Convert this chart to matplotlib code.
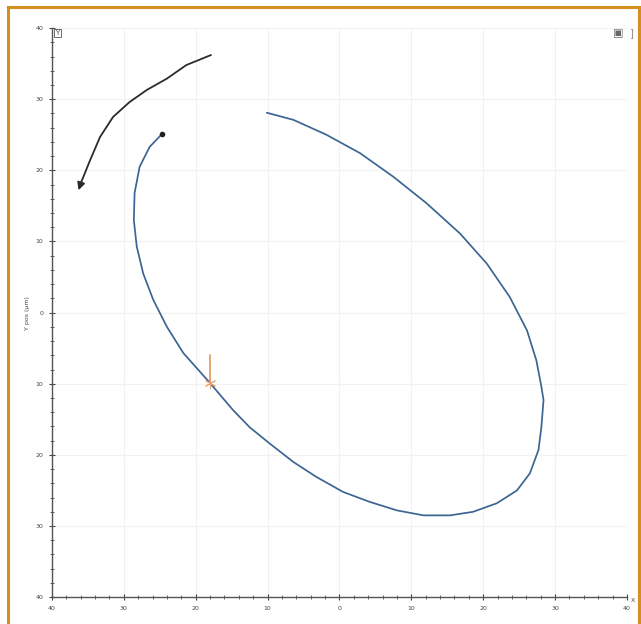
#!/usr/bin/env python3

import matplotlib
matplotlib.use("Agg")
from matplotlib import pyplot as plt
from matplotlib.ticker import MultipleLocator

# blue trajectory (x, y in um)
path_x = [-10.1, -6.4, -1.8, 2.9, 7.5, 12.1, 16.8, 20.5, 23.7, 26.1, 27.4,
          28.1, 28.4, 28.1, 27.7, 26.5, 24.7, 21.9, 18.6, 15.4, 11.7, 8.0,
          4.2, 0.5, -3.2, -6.4, -9.7, -12.5, -14.8, -18.0, -21.7, -24.0,
          -25.9, -27.3, -28.2, -28.6, -28.5, -27.8, -26.4, -24.7]
path_y = [28.1, 27.1, 25.0, 22.4, 19.1, 15.4, 11.1, 6.9, 2.2, -2.5, -6.7,
          -10.4, -12.3, -16.1, -19.3, -22.6, -25.0, -26.8, -28.0, -28.5,
          -28.5, -27.8, -26.6, -25.2, -23.1, -21.0, -18.4, -16.1, -13.7,
          -9.9, -5.7, -2.0, 1.8, 5.5, 9.3, 13.0, 16.8, 20.5, 23.3, 25.1]

# black direction arrow
arrow_x = [-17.9, -21.3, -24.0, -26.8, -29.2, -31.5, -33.3, -34.7, -35.9, -36.3]
arrow_y = [36.2, 34.8, 32.9, 31.3, 29.6, 27.5, 24.7, 21.4, 18.4, 17.2]

# orange marker
mark_x = -18.0
mark_y = -9.9
mark_top = -6.0

ticks = [-40, -30, -20, -10, 0, 10, 20, 30, 40]
tick_labels = ["40", "30", "20", "10", "0", "10", "20", "30", "40"]


def main():
    fig = plt.figure(figsize=(6.41, 6.24), dpi=100)
    ax = fig.add_axes([0.081, 0.043, 0.897, 0.912])

    ax.plot(path_x, path_y, color="#3c6593", lw=1.25,
            solid_joinstyle="round", solid_capstyle="round")
    ax.plot(path_x[-1], path_y[-1], "o", color="#222222", ms=3)

    ax.plot(arrow_x[:-1], arrow_y[:-1], color="#2b2b2b", lw=1.3,
            solid_joinstyle="round")
    ax.annotate("", xy=(arrow_x[-1], arrow_y[-1]), xytext=(arrow_x[-2], arrow_y[-2]),
                arrowprops=dict(arrowstyle="-|>", color="#2b2b2b", lw=1.3,
                                mutation_scale=11, shrinkA=0, shrinkB=0))

    ax.plot([mark_x, mark_x], [mark_y, mark_top], color="#e0904a", lw=1.1)
    ax.plot(mark_x, mark_y, marker=(6, 2, 0), color="#e8a070", ms=8, mew=0.7)

    ax.set_xlim(-40, 40)
    ax.set_ylim(-40, 40)
    ax.set_xticks(ticks)
    ax.set_xticklabels(tick_labels)
    ax.set_yticks(ticks)
    ax.set_yticklabels(tick_labels)
    ax.xaxis.set_minor_locator(MultipleLocator(2))
    ax.yaxis.set_minor_locator(MultipleLocator(2))
    ax.tick_params(which="both", labelsize=4.5, colors="#444444", direction="inout")
    ax.tick_params(which="major", length=5, width=0.8)
    ax.tick_params(which="minor", length=3, width=0.6)
    ax.grid(color="#f2f2f2", lw=0.8)
    for side in ["top", "right"]:
        ax.spines[side].set_visible(False)
    for side in ["left", "bottom"]:
        ax.spines[side].set_color("#555555")
        ax.spines[side].set_linewidth(1.0)

    ax.set_ylabel("Y pos (μm)", fontsize=4.5, color="#444444", labelpad=4)
    fig.text(0.987, 0.035, "X", fontsize=4.5, color="#444444", ha="center")

    fig.text(0.089, 0.947, "Y", fontsize=5, color="#444444", ha="center", va="center",
             bbox=dict(boxstyle="square,pad=0.2", fc="white", ec="#555555", lw=0.6))
    fig.text(0.965, 0.947, "▣", fontsize=8, color="#666666", ha="center", va="center")
    fig.text(0.985, 0.947, "]", fontsize=7, color="#888888", ha="center", va="center")

    # orange frame round the figure
    frame = dict(color="#d4901e", lw=2.2, transform=fig.transFigure, clip_on=False)
    fig.add_artist(plt.Line2D([0.013, 0.013], [0.0, 0.989], **frame))
    fig.add_artist(plt.Line2D([0.013, 0.997], [0.989, 0.989], **frame))
    fig.add_artist(plt.Line2D([0.997, 0.997], [0.0, 0.989], **frame))

    fig.savefig("out.png", dpi=100)


if __name__ == "__main__":
    main()
